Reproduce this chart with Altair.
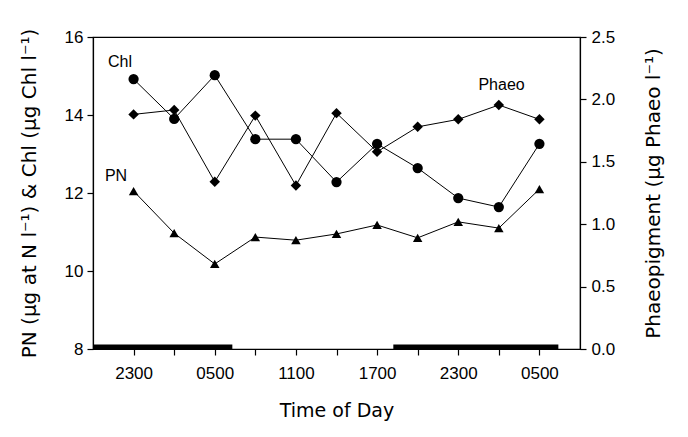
import altair as alt
import pandas as pd

# Sampling times (hours since midnight of day 1; 24+ = next day)
hours = [23, 26, 29, 32, 35, 38, 41, 44, 47, 50, 53]
chl = [14.92, 13.90, 15.02, 13.38, 13.38, 12.28, 13.26, 12.64, 11.87, 11.64, 13.26]
pn = [12.05, 10.97, 10.18, 10.87, 10.79, 10.95, 11.18, 10.85, 11.26, 11.10, 12.10]
phaeo = [1.88, 1.915, 1.34, 1.87, 1.31, 1.89, 1.58, 1.78, 1.84, 1.955, 1.84]

tick_hours = [23, 26, 29, 32, 35, 38, 41, 44, 47, 50, 53]
label_hours = [23, 29, 35, 41, 47, 53]
label_texts = ["2300", "0500", "1100", "1700", "2300", "0500"]

night_start = [20, 42.2]
night_end = [30.3, 54.4]

left_labels = ["Chl", "PN"]
left_label_hours = [22.0, 21.7]
left_label_vals = [15.36, 12.44]
right_labels = ["Phaeo"]
right_label_hours = [50.2]
right_label_vals = [2.115]

FONT = "Liberation Sans"
TFONT = "DejaVu Sans"

df = pd.DataFrame({"hour": hours, "chl": chl, "pn": pn, "phaeo": phaeo})
night = pd.DataFrame({"start": night_start, "end": night_end})
ann_l = pd.DataFrame({"t": left_labels, "hour": left_label_hours, "v": left_label_vals})
ann_r = pd.DataFrame({"t": right_labels, "hour": right_label_hours, "v": right_label_vals})

label_expr = " : ".join(f"datum.value == {h} ? '{t}'" for h, t in zip(label_hours, label_texts)) + " : ''"

xscale = alt.Scale(domain=[20, 56], nice=False, zero=False)
xaxis = alt.Axis(values=tick_hours, labelExpr=label_expr, title="Time of Day",
                 labelPadding=10, titlePadding=20, tickSize=6, titleFontSize=19)
lscale = alt.Scale(domain=[8, 16], nice=False, zero=False)
laxis = alt.Axis(values=[8, 10, 12, 14, 16], title="PN (μg at N l⁻¹)  & Chl (μg Chl l⁻¹)",
                 orient="left", labelPadding=4, titlePadding=25, tickSize=6, titleFontSize=20)
rscale = alt.Scale(domain=[0, 2.5], nice=False, zero=False)
raxis = alt.Axis(values=[0, 0.5, 1.0, 1.5, 2.0, 2.5], format=".1f",
                 title="Phaeopigment (μg Phaeo l⁻¹)", orient="right", titleAngle=270,
                 labelPadding=5, titlePadding=49, tickSize=6, titleFontSize=20)

X = alt.X("hour:Q", scale=xscale, axis=xaxis)

base = alt.Chart(df)

chl_line = base.mark_line(color="black", strokeWidth=1).encode(x=X, y=alt.Y("chl:Q", scale=lscale, axis=laxis))
chl_pts = base.mark_point(shape="circle", filled=True, color="black", size=105, opacity=1).encode(
    x=X, y=alt.Y("chl:Q", scale=lscale, axis=laxis))
pn_line = base.mark_line(color="black", strokeWidth=1).encode(x=X, y=alt.Y("pn:Q", scale=lscale, axis=laxis))
pn_pts = base.mark_point(shape="triangle-up", filled=True, color="black", size=90, opacity=1).encode(
    x=X, y=alt.Y("pn:Q", scale=lscale, axis=laxis))

night_bar = alt.Chart(night).mark_rule(color="black", strokeWidth=5, yOffset=-2).encode(
    x=alt.X("start:Q", scale=xscale, axis=xaxis), x2="end:Q",
    y=alt.YDatum(8, scale=lscale, axis=laxis))

ltext = alt.Chart(ann_l).mark_text(font=FONT, fontSize=16, color="black").encode(
    x=alt.X("hour:Q", scale=xscale, axis=xaxis), y=alt.Y("v:Q", scale=lscale, axis=laxis), text="t:N")

left = alt.layer(chl_line, pn_line, night_bar, chl_pts, pn_pts, ltext)

ph_line = base.mark_line(color="black", strokeWidth=1).encode(x=X, y=alt.Y("phaeo:Q", scale=rscale, axis=raxis))
ph_pts = base.mark_point(shape="diamond", filled=True, color="black", size=110, opacity=1).encode(
    x=X, y=alt.Y("phaeo:Q", scale=rscale, axis=raxis))
rtext = alt.Chart(ann_r).mark_text(font=FONT, fontSize=16, color="black").encode(
    x=alt.X("hour:Q", scale=xscale, axis=xaxis), y=alt.Y("v:Q", scale=rscale, axis=raxis), text="t:N")
right = alt.layer(ph_line, ph_pts, rtext)

chart = alt.layer(left, right).resolve_scale(y="independent").properties(
    width=487, height=312,
    autosize=alt.AutoSizeParams(type="none"),
    padding={"left": 93, "top": 37, "right": 108, "bottom": 88},
    background="white",
).configure_view(stroke="black", strokeWidth=1.2).configure_axis(
    grid=False, domainColor="black", tickColor="black", labelColor="black",
    titleColor="black", labelFont=FONT, labelFontSize=17, titleFont=TFONT,
    titleFontWeight="normal", domainWidth=1.2, tickWidth=1.2,
)

chart.save("out.html", embed_options={"renderer": "svg", "actions": False})
